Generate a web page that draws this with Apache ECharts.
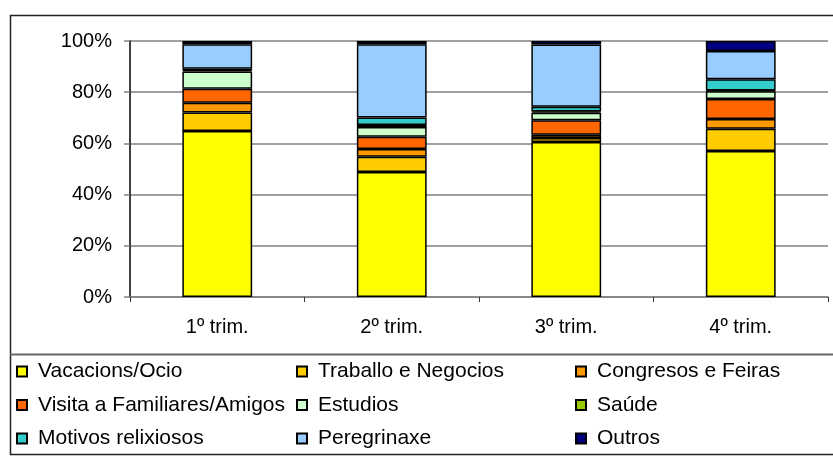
<!DOCTYPE html>
<html>
<head>
<meta charset="utf-8">
<script src="https://cdn.jsdelivr.net/npm/echarts@6/dist/echarts.min.js"></script>
<style>
  html, body { margin: 0; padding: 0; background: #fff; }
  #main { width: 833px; height: 456px; }
</style>
</head>
<body>
<div id="main"></div>
<script>
// trimestres
var categories = ['1º trim.', '2º trim.', '3º trim.', '4º trim.']

var vacacions = [64.8, 48.8, 60.5, 57.0]
var traballo = [7.3, 6.0, 1.6, 8.7]
var congresos = [3.8, 3.0, 1.3, 3.8]
var visita = [5.4, 4.8, 5.6, 7.8]
var estudios = [6.8, 3.8, 3.0, 3.1]
var saude = [0.5, 0.8, 0.5, 0.3]
var motivos = [0.6, 2.9, 1.8, 4.4]
var peregrinaxe = [9.5, 28.6, 24.3, 11.0]
var outros = [1.3, 1.3, 1.4, 3.9]

var yTicks = [0, 20, 40, 60, 80, 100]

var seriesDefs = [
  { name: 'Vacacions/Ocio', data: vacacions, color: '#FFFF00' },
  { name: 'Traballo e Negocios', data: traballo, color: '#FFCC00' },
  { name: 'Congresos e Feiras', data: congresos, color: '#FF9900' },
  { name: 'Visita a Familiares/Amigos', data: visita, color: '#FF6600' },
  { name: 'Estudios', data: estudios, color: '#CCFFCC' },
  { name: 'Saúde', data: saude, color: '#99CC00' },
  { name: 'Motivos relixiosos', data: motivos, color: '#33CCCC' },
  { name: 'Peregrinaxe', data: peregrinaxe, color: '#99CCFF' },
  { name: 'Outros', data: outros, color: '#000080' }
]

var font = 'Liberation Sans, Arial, sans-serif'

function legendCol(left, names) {
  return {
    orient: 'vertical',
    left: left,
    top: 361,
    padding: 0,
    itemGap: 12.5,
    itemWidth: 10,
    itemHeight: 10,
    icon: 'rect',
    selectedMode: false,
    data: names,
    itemStyle: { borderColor: '#000', borderWidth: 2 },
    textStyle: {
      fontFamily: font,
      fontSize: 21,
      color: '#000',
      lineHeight: 20,
      padding: [0, 0, 0, 6]
    }
  }
}

var chart = echarts.init(document.getElementById('main'))
chart.setOption({
  animation: false,
  backgroundColor: '#fff',
  graphic: [
    {
      type: 'rect',
      shape: { x: 10.5, y: 15.5, width: 830, height: 439 },
      style: { fill: 'none', stroke: '#222', lineWidth: 1.5 },
      silent: true
    },
    {
      type: 'line',
      shape: { x1: 10, y1: 354.5, x2: 833, y2: 354.5 },
      style: { stroke: '#666', lineWidth: 2 },
      silent: true
    }
  ],
  legend: [
    legendCol(16, ['Vacacions/Ocio', 'Visita a Familiares/Amigos', 'Motivos relixiosos']),
    legendCol(296, ['Traballo e Negocios', 'Estudios', 'Peregrinaxe']),
    legendCol(575, ['Congresos e Feiras', 'Saúde', 'Outros'])
  ],
  grid: {
    left: 130,
    right: 5,
    top: 41,
    bottom: 159
  },
  xAxis: {
    type: 'category',
    data: categories,
    axisLine: { lineStyle: { color: '#808080', width: 1.5 } },
    axisTick: { show: true, length: 5, lineStyle: { color: '#333', width: 1 } },
    axisLabel: { fontFamily: font, fontSize: 20, color: '#000', margin: 20 }
  },
  yAxis: {
    type: 'value',
    min: yTicks[0],
    max: yTicks[yTicks.length - 1],
    interval: 20,
    axisLine: { show: true, lineStyle: { color: '#000', width: 1.5 } },
    axisTick: { show: true, length: 6, lineStyle: { color: '#808080', width: 1.5 } },
    splitLine: { lineStyle: { color: '#808080', width: 1.5 } },
    axisLabel: {
      fontFamily: font,
      fontSize: 20,
      color: '#000',
      margin: 18,
      formatter: '{value}%'
    }
  },
  series: seriesDefs.map(function(s) {
    return {
      name: s.name,
      type: 'bar',
      stack: 'total',
      barWidth: '40%',
      data: s.data,
      itemStyle: {
        color: s.color,
        borderColor: '#000',
        borderWidth: 1.5
      }
    }
  })
})
</script>
</body>
</html>
